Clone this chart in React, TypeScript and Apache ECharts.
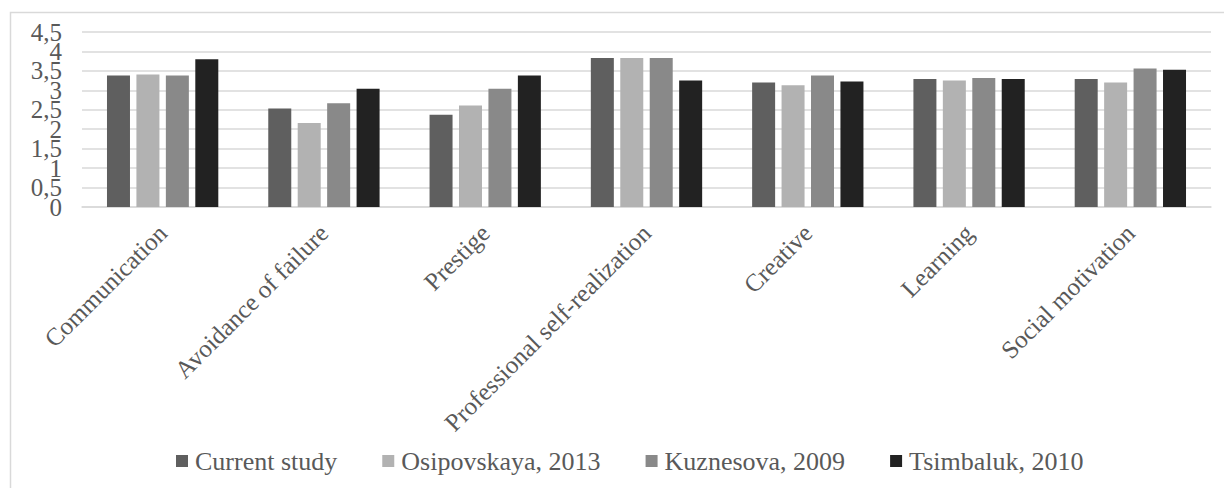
import React, { useEffect, useRef } from "react";
import * as echarts from "echarts";

const categories = [
  "Communication",
  "Avoidance of failure",
  "Prestige",
  "Professional self-realization",
  "Creative",
  "Learning",
  "Social motivation",
];
const seriesNames = ["Current study", "Osipovskaya, 2013", "Kuznesova, 2009", "Tsimbaluk, 2010"];
const currentStudy = [3.38, 2.53, 2.37, 3.83, 3.2, 3.29, 3.29];
const osipovskaya = [3.41, 2.16, 2.61, 3.83, 3.13, 3.25, 3.2];
const kuznesova = [3.38, 2.67, 3.04, 3.83, 3.38, 3.32, 3.56];
const tsimbaluk = [3.8, 3.04, 3.38, 3.25, 3.23, 3.29, 3.53];
const colors = ["#5f5f5f", "#b2b2b2", "#898989", "#222222"];
const yMin = 0;
const yMax = 4.5;
const yStep = 0.5;

const FONT = "Liberation Serif";

const fmt = (v: number) => String(v).replace(".", ",");
const isWhole = (v: number) => Math.abs(v - Math.round(v)) < 1e-9;

export default function App() {
  const ref = useRef<HTMLDivElement>(null);
  useEffect(() => {
    if (!ref.current) return;
    const chart = echarts.init(ref.current, undefined, { renderer: "svg" });
    const data = [currentStudy, osipovskaya, kuznesova, tsimbaluk];
    const labelBase = {
      margin: 20,
      fontSize: 25,
      color: "#595959",
      fontFamily: FONT,
      showMinLabel: true,
      showMaxLabel: true,
    };
    chart.setOption({
      animation: false,
      backgroundColor: "#ffffff",
      textStyle: { fontFamily: FONT },
      graphic: [
        {
          type: "rect",
          shape: { x: 10.5, y: 12.5, width: 1400, height: 600 },
          style: { fill: "none", stroke: "#d9d9d9", lineWidth: 1.5 },
          silent: true,
        },
      ],
      grid: { left: 82, right: 13, top: 32, bottom: 281, containLabel: false },
      legend: {
        left: 171,
        top: 443,
        itemWidth: 12,
        itemHeight: 12,
        itemGap: 45,
        icon: "rect",
        textStyle: { fontSize: 26, color: "#595959", fontFamily: FONT, padding: [0, 0, 0, 2] },
        data: seriesNames,
      },
      xAxis: {
        type: "category",
        data: categories,
        axisLine: { lineStyle: { color: "#d9d9d9", width: 1.5 } },
        axisTick: { show: false },
        axisLabel: {
          rotate: 45,
          interval: 0,
          margin: 22,
          fontSize: 25,
          color: "#595959",
          fontFamily: FONT,
        },
      },
      yAxis: [
        {
          type: "value",
          min: yMin,
          max: yMax,
          interval: yStep,
          axisLine: { show: false },
          axisTick: { show: false },
          splitLine: { lineStyle: { color: "#d9d9d9", width: 1.5 } },
          axisLabel: {
            ...labelBase,
            formatter: (v: number) => (isWhole(v) ? fmt(v) : ""),
          },
        },
        {
          type: "value",
          position: "left",
          offset: 0,
          min: yMin,
          max: yMax,
          interval: yStep,
          axisLine: { show: false },
          axisTick: { show: false },
          splitLine: { show: false },
          axisLabel: {
            ...labelBase,
            formatter: (v: number) => (isWhole(v) ? "" : fmt(v)),
          },
        },
      ],
      series: seriesNames.map((name, i) => ({
        name,
        type: "bar",
        yAxisIndex: 0,
        data: data[i],
        barWidth: 23,
        barGap: "28%",
        itemStyle: { color: colors[i] },
      })),
    });
    return () => chart.dispose();
  }, []);
  return (
    <div
      ref={ref}
      style={{ position: "absolute", left: 0, top: 0, width: 1224, height: 488 }}
    />
  );
}
